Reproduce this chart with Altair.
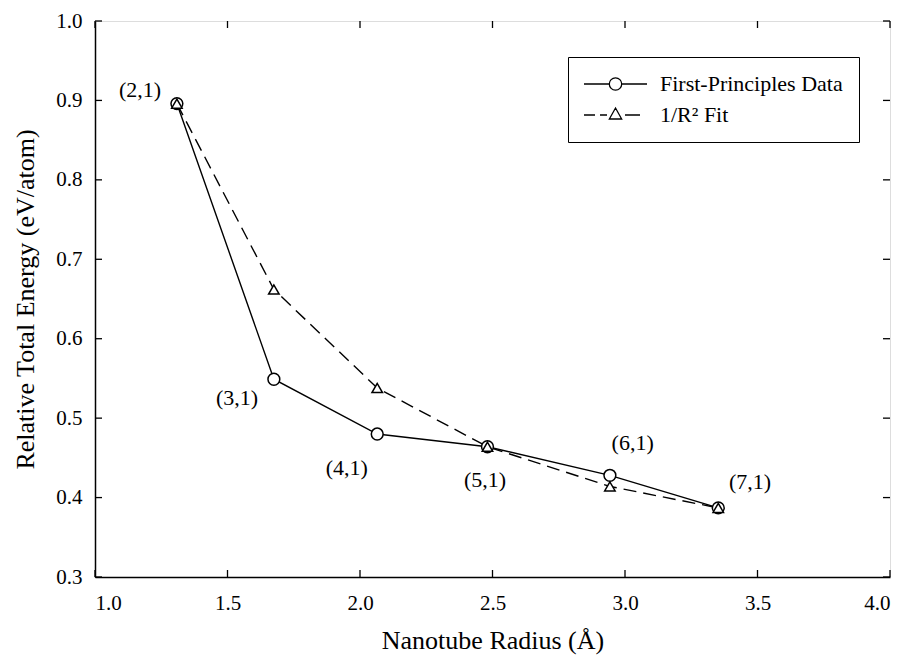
import altair as alt
import pandas as pd

# ---- data ----
radius = [1.309, 1.675, 2.065, 2.481, 2.943, 3.352]
energy_fp = [0.896, 0.549, 0.480, 0.464, 0.428, 0.387]
energy_fit = [0.896, 0.662, 0.538, 0.464, 0.414, 0.387]
series_names = ["First-Principles Data", "1/R² Fit"]

label_text = ["(2,1)", "(3,1)", "(4,1)", "(5,1)", "(6,1)", "(7,1)"]
label_x = [1.17, 1.536, 1.95, 2.472, 3.029, 3.472]
label_y = [0.913, 0.525, 0.437, 0.422, 0.469, 0.420]

x_ticks = [1.0, 1.5, 2.0, 2.5, 3.0, 3.5, 4.0]
y_ticks = [0.3, 0.4, 0.5, 0.6, 0.7, 0.8, 0.9, 1.0]

W, H = 795, 556
FONT = "Liberation Serif, Times New Roman, serif"
TICK = 7

fp_df = pd.DataFrame({"r": radius, "e": energy_fp, "series": series_names[0]})
fit_df = pd.DataFrame({"r": radius, "e": energy_fit, "series": series_names[1]})
all_df = pd.concat([fp_df, fit_df], ignore_index=True)
lab_df = pd.DataFrame({"x": label_x, "y": label_y, "t": label_text})
xt_df = pd.DataFrame({"v": x_ticks})
yt_df = pd.DataFrame({"v": y_ticks})

xs = alt.Scale(domain=[1.0, 4.0], nice=False, zero=False)
ys = alt.Scale(domain=[0.3, 1.0], nice=False, zero=False)

x_axis = alt.Axis(values=x_ticks, format=".1f", ticks=False, grid=False,
                  domainColor="black", domainWidth=1.5,
                  labelFont=FONT, labelFontSize=21, labelColor="black",
                  labelPadding=15, title="Nanotube Radius (Å)",
                  titleFont=FONT, titleFontSize=26, titleFontWeight="normal",
                  titleColor="black", titlePadding=14)
y_axis = alt.Axis(values=y_ticks, format=".1f", ticks=False, grid=False,
                  domainColor="black", domainWidth=1.5,
                  labelFont=FONT, labelFontSize=21, labelColor="black",
                  labelPadding=13, title="Relative Total Energy (eV/atom)",
                  titleFont=FONT, titleFontSize=26, titleFontWeight="normal",
                  titleColor="black", titlePadding=17)

X = alt.X("r:Q", scale=xs, axis=x_axis)
Y = alt.Y("e:Q", scale=ys, axis=y_axis)

line_fp = alt.Chart(fp_df).mark_line(color="black", strokeWidth=1.4).encode(x=X, y=Y)
line_fit = alt.Chart(fit_df).mark_line(color="black", strokeWidth=1.4,
                                       strokeDash=[13, 7]).encode(x=X, y=Y)
pts_fp = alt.Chart(fp_df).mark_point(shape="circle", size=140, filled=True,
                                     fill="white", stroke="black",
                                     strokeWidth=1.5, opacity=1).encode(x=X, y=Y)
pts_fit = alt.Chart(fit_df).mark_point(shape="triangle-up", size=110, filled=True,
                                       fill="white", stroke="black",
                                       strokeWidth=1.5, opacity=1).encode(x=X, y=Y)

labels = alt.Chart(lab_df).mark_text(font=FONT, fontSize=22, color="black",
                                     align="center", baseline="middle").encode(
    x=alt.X("x:Q", scale=xs), y=alt.Y("y:Q", scale=ys), text="t:N")

# inward tick marks on all four sides
tick_bottom = alt.Chart(xt_df).mark_rule(color="black", strokeWidth=1.3).encode(
    x=alt.X("v:Q", scale=xs), y=alt.value(H), y2=alt.value(H - TICK))
tick_top = alt.Chart(xt_df).mark_rule(color="black", strokeWidth=1.3).encode(
    x=alt.X("v:Q", scale=xs), y=alt.value(0), y2=alt.value(TICK))
tick_left = alt.Chart(yt_df).mark_rule(color="black", strokeWidth=1.3).encode(
    y=alt.Y("v:Q", scale=ys), x=alt.value(0), x2=alt.value(TICK))
tick_right = alt.Chart(yt_df).mark_rule(color="black", strokeWidth=1.3).encode(
    y=alt.Y("v:Q", scale=ys), x=alt.value(W), x2=alt.value(W - TICK))

# legend symbols: line + marker as custom SVG paths (symbol unit space)
path_fp = ("M-1.176,0 L1.529,0 M2.854,0 L5.559,0 "
           "M2.855,0 A0.663,0.663 0 1,1 1.529,0 A0.663,0.663 0 1,1 2.855,0 Z")
path_fit = ("M-1.176,0 L0,0 M0.535,0 L1.283,0 M3.207,0 L4.811,0 "
            "M2.192,-0.75 L2.850,0.43 L1.534,0.43 Z")

legend_layer = alt.Chart(all_df).mark_point(filled=False).encode(
    x=X, y=Y,
    shape=alt.Shape("series:N",
                    scale=alt.Scale(domain=series_names, range=[path_fp, path_fit]),
                    sort=series_names,
                    legend=alt.Legend(title=None, orient="none",
                                      legendX=473, legendY=36,
                                      strokeColor="black", fillColor="white",
                                      padding=16, symbolSize=350,
                                      symbolStrokeColor="black",
                                      symbolFillColor="white",
                                      symbolStrokeWidth=1.3, symbolOpacity=1,
                                      labelFont=FONT, labelFontSize=22,
                                      labelColor="black", labelOffset=54,
                                      labelLimit=400, rowPadding=9)),
    opacity=alt.value(0),
)

chart = alt.layer(
    line_fp, line_fit, legend_layer, pts_fp, pts_fit, labels,
    tick_bottom, tick_top, tick_left, tick_right,
).properties(
    width=W, height=H,
    autosize=alt.AutoSizeParams(type="none"),
    padding={"left": 87, "top": 13, "right": 8, "bottom": 78},
).configure_view(stroke="black", strokeWidth=1.5).configure(background="white")

chart.save("out.html", embed_options={"renderer": "svg", "actions": False})
